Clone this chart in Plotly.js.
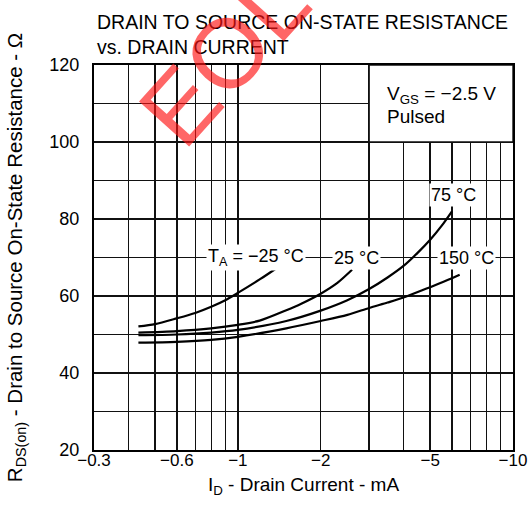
<!DOCTYPE html>
<html><head><meta charset="utf-8">
<script src="https://cdn.plot.ly/plotly-3.0.1.min.js"></script>
<style>html,body{margin:0;padding:0;background:#fff}#chart{width:530px;height:510px}</style>
</head><body><div id="chart"></div>
<script>
// Drain current magnitudes (mA) and R_DS(on) (ohm) per ambient temperature
const idM25 = [0.435, 0.5, 0.6, 0.7, 0.8, 0.9, 1.0, 1.2, 1.42];
const rM25  = [52.1, 52.7, 54.2, 55.6, 57.2, 58.9, 60.8, 64.3, 67.8];
const id25  = [0.435, 0.6, 0.8, 1.0, 1.2, 1.5, 1.7, 2.0, 2.3, 2.6];
const r25   = [50.5, 50.9, 51.6, 52.5, 53.6, 56.3, 58.0, 60.6, 63.4, 66.8];
const id75  = [0.435, 0.6, 0.8, 1.0, 1.5, 2.0, 2.5, 3.0, 3.5, 4.0, 4.5, 5.0, 5.5, 6.0];
const r75   = [49.8, 50.0, 50.5, 51.2, 53.5, 56.2, 58.9, 61.8, 64.8, 67.8, 71.2, 74.6, 78.2, 82.0];
const id150 = [0.435, 0.6, 0.8, 1.0, 1.5, 2.0, 2.5, 3.0, 3.5, 4.0, 5.0, 6.0, 6.4];
const r150  = [47.9, 48.1, 48.6, 49.4, 51.6, 53.5, 55.1, 56.9, 58.3, 59.6, 62.3, 64.6, 65.5];

const curveLabels = ["T<sub>A</sub> = −25 °C", "25 °C", "75 °C", "150 °C"];
const labelX = [1.16, 2.69, 6.07, 6.79];
const labelY = [70, 70, 86.2, 70];

const xTickVals = [0.3, 0.6, 1, 2, 5, 10];
const xTickText = ["−0.3", "−0.6", "−1", "−2", "−5", "−10"];
const xMinorVals = [0.4, 0.5, 0.7, 0.8, 0.9, 3, 4, 6, 7, 8, 9];
const yTickVals = [20, 40, 60, 80, 100, 120];

const FONT = '"Liberation Sans", Arial, Helvetica, sans-serif';
const line = {color: '#000', width: 2.2, shape: 'spline', smoothing: 0.8};
const traces = [
  {x: idM25, y: rM25, mode: 'lines', line: line, hoverinfo: 'skip'},
  {x: id25, y: r25, mode: 'lines', line: line, hoverinfo: 'skip'},
  {x: id75, y: r75, mode: 'lines', line: line, hoverinfo: 'skip'},
  {x: id150, y: r150, mode: 'lines', line: line, hoverinfo: 'skip'}
];

const annotations = curveLabels.map((t, i) => ({
  x: Math.log10(labelX[i]), y: labelY[i], xref: 'x', yref: 'y', text: t,
  showarrow: false, bgcolor: '#fff', borderpad: 1, font: {size: 18, color: '#000'},
  xanchor: 'center', yanchor: 'middle'
}));
annotations.push({x: Math.log10(3.43), y: 112.2, xref: 'x', yref: 'y', text: 'V<sub>GS</sub> = −2.5 V',
  showarrow: false, xanchor: 'left', yanchor: 'middle', font: {size: 19, color: '#000'}});
annotations.push({x: Math.log10(3.43), y: 106.6, xref: 'x', yref: 'y', text: 'Pulsed',
  showarrow: false, xanchor: 'left', yanchor: 'middle', font: {size: 19, color: '#000'}});
annotations.push({x: (224 - 94) / 419, y: (450 - 57) / 385, xref: 'paper', yref: 'paper', text: 'EOL',
  showarrow: false, xanchor: 'center', yanchor: 'middle', textangle: -48,
  font: {size: 98, color: 'rgba(255,20,20,0.65)', family: FONT}});

const layout = {
  width: 530, height: 510,
  margin: {l: 94, r: 17, t: 65, b: 60},
  paper_bgcolor: '#fff', plot_bgcolor: '#fff',
  font: {family: FONT, color: '#000', size: 18},
  showlegend: false,
  title: {text: 'DRAIN TO SOURCE ON-STATE RESISTANCE<br>vs. DRAIN CURRENT',
    x: 97 / 530, xref: 'container', xanchor: 'left', y: 1 - 29 / 510, yref: 'container', yanchor: 'top',
    font: {size: 19.5, color: '#000'}},
  xaxis: {
    type: 'log', range: [Math.log10(0.3), 1], fixedrange: true,
    tickmode: 'array', tickvals: xTickVals, ticktext: xTickText, ticks: '',
    tickfont: {size: 17}, ticklabelstandoff: -6,
    showgrid: true, gridcolor: '#111', gridwidth: 1.4,
    minor: {tickmode: 'array', tickvals: xMinorVals, showgrid: true, gridcolor: '#111', gridwidth: 1.4, ticks: ''},
    showline: true, linecolor: '#000', linewidth: 2, mirror: true, zeroline: false,
    title: {text: 'I<sub>D</sub> - Drain Current - mA', font: {size: 19}, standoff: 8}
  },
  yaxis: {
    range: [20, 120], fixedrange: true,
    tickmode: 'array', tickvals: yTickVals, ticks: '', tickfont: {size: 18}, ticklabelstandoff: 9,
    showgrid: true, gridcolor: '#111', gridwidth: 1.4,
    minor: {tickmode: 'linear', tick0: 20, dtick: 10, showgrid: true, gridcolor: '#111', gridwidth: 1.4, ticks: ''},
    showline: true, linecolor: '#000', linewidth: 2, mirror: true, zeroline: false,
    title: {text: 'R<sub>DS(on)</sub> - Drain to Source On-State Resistance - Ω', font: {size: 20.5}, standoff: 21}
  },
  shapes: [{type: 'rect', xref: 'x', yref: 'y', x0: 3, x1: 10, y0: 100, y1: 120,
    fillcolor: '#fff', line: {color: '#111', width: 1.4}, layer: 'above'}],
  annotations: annotations
};

Plotly.newPlot('chart', traces, layout, {displayModeBar: false, staticPlot: true});
</script>
</body></html>
